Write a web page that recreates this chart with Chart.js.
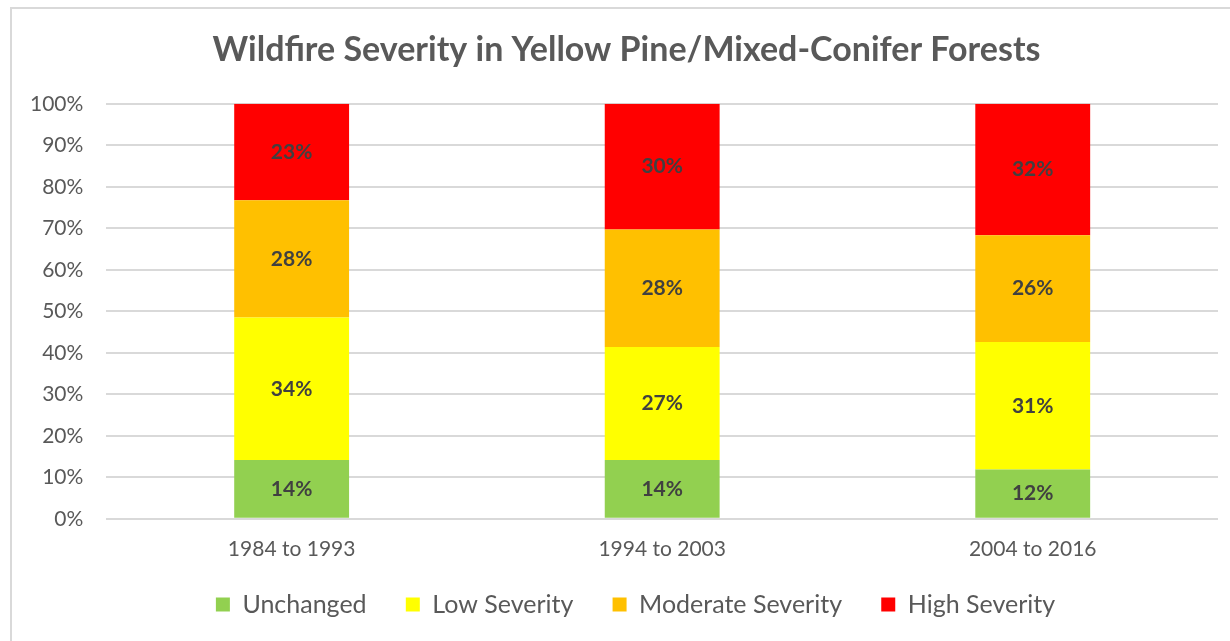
<!DOCTYPE html>
<html>
<head>
<meta charset="utf-8">
<script src="https://cdn.jsdelivr.net/npm/chart.js@4"></script>
<style>
  html, body { margin: 0; padding: 0; background: #fff; }
  body { width: 1230px; height: 641px; position: relative; overflow: hidden; }
  .frame { position: absolute; left: 10px; top: 7px; width: 1240px; height: 660px;
           border: 2px solid #d9d9d9; box-sizing: border-box; }
  .wrap { position: absolute; left: 0; top: 0; width: 1230px; height: 641px; }
</style>
</head>
<body>
<div class="frame"></div>
<div class="wrap"><canvas id="chart" width="1230" height="641"></canvas></div>
<script>
const periods = ['1984 to 1993', '1994 to 2003', '2004 to 2016'];
const seriesNames = ['Unchanged', 'Low Severity', 'Moderate Severity', 'High Severity'];
const unchanged = [14, 14, 12];
const lowSeverity = [34, 27, 31];
const moderateSeverity = [28, 28, 26];
const highSeverity = [23, 30, 32];
const colors = ['#92D050', '#FFFF00', '#FFC000', '#FF0000'];

const raw = [unchanged, lowSeverity, moderateSeverity, highSeverity];

// 100% stacked: each column is scaled so its parts add to 100
const totals = periods.map((p, i) => raw.reduce((s, arr) => s + arr[i], 0));

const datasets = raw.map((arr, k) => ({
    label: seriesNames[k],
    data: arr.map((v, i) => v / totals[i] * 100),
    shown: arr,
    backgroundColor: colors[k],
    borderWidth: 0,
    categoryPercentage: 0.31,
    barPercentage: 1
}));

const segLabels = {
    id: 'segLabels',
    afterDatasetsDraw(chart) {
        const c = chart.ctx;
        c.save();
        c.font = 'bold 21px Lato';
        c.fillStyle = '#404040';
        c.textAlign = 'center';
        c.textBaseline = 'middle';
        chart.data.datasets.forEach((ds, k) => {
            chart.getDatasetMeta(k).data.forEach((bar, i) => {
                c.fillText(ds.shown[i] + '%', bar.x, (bar.y + bar.base) / 2);
            });
        });
        c.restore();
    }
};

// title and legend sit a bit right of the plot centre in the original
const nudge = {
    id: 'nudge',
    afterLayout(chart) {
        chart.titleBlock.left += 14;
        chart.titleBlock.right += 14;
        chart.legend.left += 23;
        chart.legend.right += 23;
    }
};

const ctx = document.getElementById('chart').getContext('2d');
new Chart(ctx, {
    type: 'bar',
    data: { labels: periods, datasets: datasets },
    options: {
        responsive: false,
        animation: false,
        layout: { padding: { left: 7, right: 12, top: 30, bottom: 14 } },
        plugins: {
            title: {
                display: true,
                text: 'Wildfire Severity in Yellow Pine/Mixed-Conifer Forests',
                color: '#595959',
                font: { family: 'Lato', size: 34, weight: 'bold' },
                padding: { top: 0, bottom: 33 }
            },
            legend: {
                position: 'bottom',
                labels: {
                    color: '#595959',
                    font: { family: 'Lato', size: 25 },
                    boxWidth: 14,
                    boxHeight: 14,
                    padding: 20,
                    // extra room between items without widening the rows
                    generateLabels(chart) {
                        const items = Chart.defaults.plugins.legend.labels.generateLabels(chart);
                        items.forEach((it, i) => {
                            if (i < items.length - 1) it.text = it.text + '   ';
                        });
                        return items;
                    }
                }
            },
            tooltip: { enabled: false }
        },
        scales: {
            x: {
                stacked: true,
                grid: { display: false },
                border: { display: false },
                ticks: { color: '#595959', font: { family: 'Lato', size: 21 }, padding: 10 }
            },
            y: {
                stacked: true,
                min: 0,
                max: 100,
                grid: { color: '#d9d9d9', lineWidth: 2, drawTicks: false },
                border: { display: false },
                ticks: {
                    stepSize: 10,
                    color: '#595959',
                    font: { family: 'Lato', size: 21 },
                    padding: 23,
                    callback: v => v + '%'
                }
            }
        }
    },
    plugins: [segLabels, nudge]
});
</script>
</body>
</html>
